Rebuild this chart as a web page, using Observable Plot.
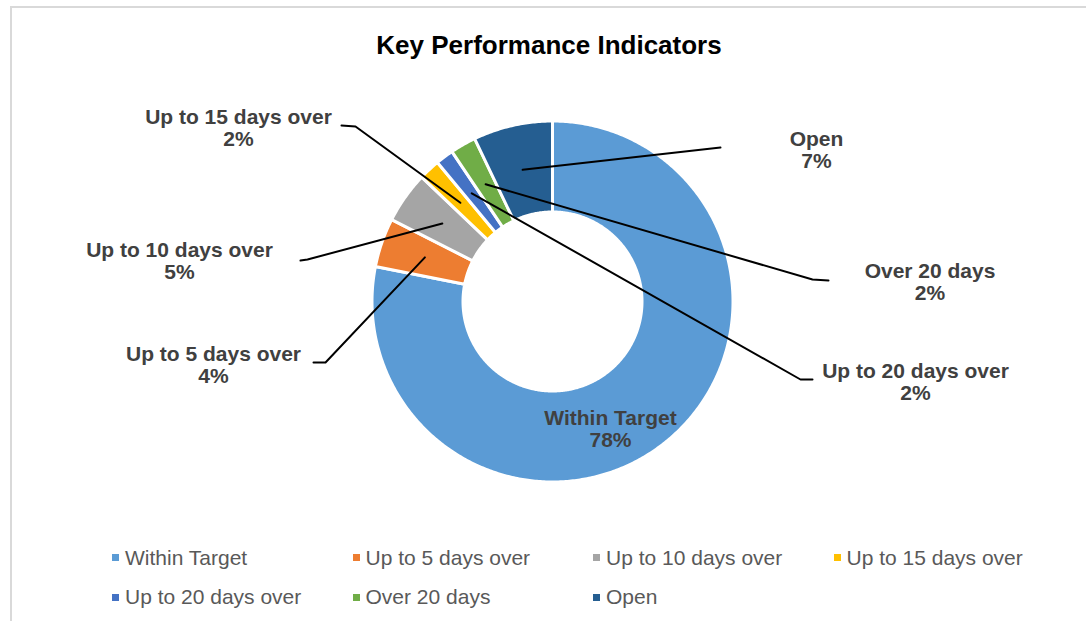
<!DOCTYPE html>
<html><head><meta charset="utf-8">
<script src="https://cdn.jsdelivr.net/npm/d3@7"></script>
<script src="https://cdn.jsdelivr.net/npm/@observablehq/plot@0.6"></script>
<style>
body{margin:0;background:#fff;font-family:"Liberation Sans",Arial,sans-serif;}
#wrap{position:relative;width:1086px;height:621px;overflow:hidden;background:#fff;}
#frame{position:absolute;left:10px;top:6px;width:1200px;height:800px;border:2px solid #d9d9d9;box-sizing:border-box;}
#title{position:absolute;left:0;top:30px;width:1098px;text-align:center;font-weight:bold;font-size:26px;line-height:30px;color:#000;}
#chart{position:absolute;left:0;top:80px;}
.lg{position:absolute;font-size:21px;line-height:24px;color:#595959;white-space:nowrap;}
.sw{position:absolute;width:7px;height:7px;}
</style></head>
<body><div id="wrap"><div id="frame"></div><div id="title">Key Performance Indicators</div><div id="chart"></div><div id="legend"></div></div>
<script>
// ---- data ----
const categories = ["Within Target","Up to 5 days over","Up to 10 days over","Up to 15 days over","Up to 20 days over","Over 20 days","Open"];
const shares = [78.1, 4.4, 4.6, 1.9, 1.6, 2.3, 7.1];
const colors = ["#5B9BD5","#ED7D31","#A5A5A5","#FFC000","#4472C4","#70AD47","#255E91"];

// ---- layout ----
const CX = 552, CY = 301;            // page position of donut centre
const SVG_TOP = 80, SVG_W = 1086, SVG_H = 450;
const outerR = 180.5, innerR = 89.5;
const LABEL_SIZE = 21;
// label positions relative to centre (x = text centre, y = first baseline)
const labelX = [58, -339, -373, -314, 363, 377.5, 264];
const labelBaseline = [123, 59, -45, -178, 76, -24, -156];
// leader line elbow / end points relative to centre (null = no leader)
const leaderElbow = [null, [-227, 61], [-245, -42], [-197, -175], [248, 78], [260, -22], [168, -154]];
const leaderEnd   = [null, [-239, 61], [-252, -41], [-211, -176], [260, 78], [276, -21], [168, -154]];

// ---- geometry derived from data ----
const arcs = d3.pie().sort(null).value(d => d)(shares);
const slicePts = [];
arcs.forEach((a, i) => {
  const n = Math.max(2, Math.ceil((a.endAngle - a.startAngle) / 0.01));
  for (let k = 0; k <= n; k++) {
    const t = a.startAngle + (a.endAngle - a.startAngle) * k / n;
    slicePts.push({cat: categories[i], x: outerR * Math.sin(t), y: -outerR * Math.cos(t)});
  }
  for (let k = n; k >= 0; k--) {
    const t = a.startAngle + (a.endAngle - a.startAngle) * k / n;
    slicePts.push({cat: categories[i], x: innerR * Math.sin(t), y: -innerR * Math.cos(t)});
  }
});
const midR = (outerR + innerR) / 2;
const leaderPts = [];
arcs.forEach((a, i) => {
  if (!leaderElbow[i]) return;
  const m = (a.startAngle + a.endAngle) / 2;
  leaderPts.push({cat: categories[i], x: midR * Math.sin(m), y: -midR * Math.cos(m)});
  leaderPts.push({cat: categories[i], x: leaderElbow[i][0], y: leaderElbow[i][1]});
  leaderPts.push({cat: categories[i], x: leaderEnd[i][0], y: leaderEnd[i][1]});
});
const labels = categories.map((c, i) => ({
  text: c + "\n" + Math.round(shares[i]) + "%",
  x: labelX[i],
  y: labelBaseline[i] - 0.71 * LABEL_SIZE
}));

const chart = Plot.plot({
  width: SVG_W, height: SVG_H, margin: 0,
  x: {domain: [-CX, SVG_W - CX], range: [0, SVG_W], axis: null},
  y: {domain: [SVG_TOP - CY, SVG_TOP + SVG_H - CY], range: [0, SVG_H], axis: null},
  color: {domain: categories, range: colors},
  style: {background: "none", fontFamily: '"Liberation Sans", Arial, sans-serif', overflow: "visible"},
  marks: [
    Plot.line(slicePts, {x: "x", y: "y", z: "cat", fill: "cat", stroke: "white", strokeWidth: 3, curve: "linear-closed"}),
    Plot.line(leaderPts, {x: "x", y: "y", z: "cat", stroke: "black", strokeWidth: 2}),
    Plot.text(labels, {x: "x", y: "y", text: "text", fontSize: LABEL_SIZE, fontWeight: "bold", fill: "#404040",
      textAnchor: "middle", lineAnchor: "top", lineHeight: 1.05})
  ]
});
document.getElementById("chart").appendChild(chart);

// ---- legend ----
const legend = document.getElementById("legend");
categories.forEach((c, i) => {
  const col = i % 4, row = Math.floor(i / 4);
  const sw = document.createElement("div");
  sw.className = "sw";
  sw.style.left = (112 + 240.5 * col) + "px";
  sw.style.top = (554 + 40 * row) + "px";
  sw.style.background = colors[i];
  legend.appendChild(sw);
  const t = document.createElement("div");
  t.className = "lg";
  t.style.left = (125 + 240.5 * col) + "px";
  t.style.top = (546 + 39 * row) + "px";
  t.textContent = c;
  legend.appendChild(t);
});
</script>
</body></html>
